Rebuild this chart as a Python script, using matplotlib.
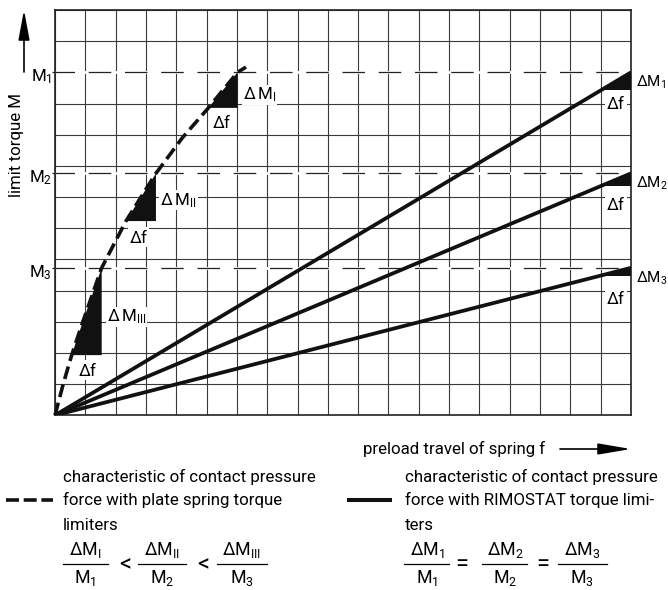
import matplotlib
matplotlib.use("Agg")
from matplotlib import pyplot as plt
from matplotlib.lines import Line2D

plt.rcParams['font.family'] = ['Roboto', 'DejaVu Sans']
plt.rcParams['font.size'] = 12.2
plt.rcParams['mathtext.fontset'] = 'custom'
plt.rcParams['mathtext.rm'] = 'Roboto'
plt.rcParams['mathtext.it'] = 'Roboto:italic'
plt.rcParams['mathtext.bf'] = 'Roboto:bold'

W, H = 668, 590

# chart paper: 19 x 13 squares
n_cols, n_rows = 19, 13

# limit torques M1, M2, M3 (in squares)
m_levels = [11.0, 7.76, 4.73]
m_names = [r'M$_1$', r'M$_2$', r'M$_3$']

# plate spring characteristic (dashed curve)
plate_f = [0, 0.27, 0.55, 0.9, 1.54, 2.34, 3.33, 4.2, 5.06, 6.02, 6.3]
plate_m = [0, 1.0, 1.93, 2.95, 4.73, 6.23, 7.76, 8.9, 9.86, 11.0, 11.17]
# triangles on the curve (start / end index in plate_f)
plate_tri = [(2, 4), (5, 6), (8, 9)]
plate_dm = [r'$\mathit{\Delta}\,\mathrm{M}_{\mathrm{III}}$', r'$\mathit{\Delta}\,\mathrm{M}_{\mathrm{II}}$',
            r'$\mathit{\Delta}\,\mathrm{M}_{\mathrm{I}}$']

# RIMOSTAT characteristic: straight lines from the origin to (f_end, M)
f_end = 19
f_tri = 18
rimo_dm = [r'$\mathit{\Delta}\mathrm{M}_1$', r'$\mathit{\Delta}\mathrm{M}_2$', r'$\mathit{\Delta}\mathrm{M}_3$']
df_label = r'$\mathit{\Delta}\mathrm{f}$'

fig = plt.figure(figsize=(W / 100, H / 100), dpi=100)
ax = fig.add_axes([55 / W, 1 - 415.3 / H, 576 / W, 405.3 / H])
ax.set_xlim(0, n_cols)
ax.set_ylim(0, n_rows)
ax.set_xticks(range(n_cols + 1))
ax.set_yticks(range(n_rows + 1))
ax.tick_params(length=0, labelbottom=False, labelleft=False)
ax.grid(True, color='#3a3a3a', lw=0.8)
for s in ax.spines.values():
    s.set_linewidth(1.2)
    s.set_color('#222222')

bb = dict(facecolor='white', edgecolor='none', pad=0.6)

# M reference lines
for m, name in zip(m_levels, m_names):
    ax.plot([-0.1, n_cols], [m, m], color='white', lw=2, clip_on=False, zorder=2)
    ax.plot([-0.1, n_cols], [m, m], color='#222222', lw=0.9, ls=(0, (18, 11)), clip_on=False, zorder=2)
    ax.text(-0.1, m - 0.15, name, ha='right', va='center')

# plate spring curve + triangles
ax.plot(plate_f, plate_m, color='#111111', lw=2.6, ls=(0, (3.6, 1.6)), zorder=4, clip_on=False)
for i, j in plate_tri:
    xs = plate_f[i:j + 1] + [plate_f[j]]
    ys = plate_m[i:j + 1] + [plate_m[i]]
    ax.fill(xs, ys, color='#111111', lw=0, zorder=3)

ax.text(6.2, 10.27, plate_dm[2], ha='left', va='center', bbox=bb, zorder=5)
ax.text(5.49, 9.41, df_label, ha='center', va='center', bbox=bb, zorder=5)
ax.text(3.47, 6.9, plate_dm[1], ha='left', va='center', bbox=bb, zorder=5)
ax.text(2.75, 5.72, df_label, ha='center', va='center', bbox=bb, zorder=5)
ax.text(1.7, 3.16, plate_dm[0], ha='left', va='center', bbox=bb, zorder=5)
ax.text(1.07, 1.45, df_label, ha='center', va='center', bbox=bb, zorder=5)

# RIMOSTAT lines + triangles
for m, lab in zip(m_levels, rimo_dm):
    ax.plot([0, f_end], [0, m], color='#111111', lw=2.7, solid_capstyle='butt', zorder=4)
    mt = m * f_tri / f_end
    ax.fill([f_tri, f_end, f_end], [mt, mt, m], color='#111111', lw=0, zorder=3)
    ax.text(f_end + 0.17, m - 0.32, lab, ha='left', va='center', fontsize=11, clip_on=False)
    ax.text(f_tri + 0.5, m - 0.97, df_label, ha='center', va='center', bbox=bb, zorder=5)

# axis captions
fig.text(17 / W, 1 - 145 / H, 'limit torque M', rotation=90, ha='center', va='center')
ax.annotate('', xy=(24 / W, 1 - 10 / H), xytext=(24 / W, 1 - 72 / H),
            xycoords='figure fraction', textcoords='figure fraction',
            arrowprops=dict(arrowstyle='-|>,head_length=1.5,head_width=0.28',
                            color='black', lw=1.2, shrinkA=0, shrinkB=0))
fig.text(363 / W, 1 - 449 / H, 'preload travel of spring f', ha='left', va='center')
ax.annotate('', xy=(631 / W, 1 - 449 / H), xytext=(560 / W, 1 - 449 / H),
            xycoords='figure fraction', textcoords='figure fraction',
            arrowprops=dict(arrowstyle='-|>,head_length=1.65,head_width=0.28',
                            color='black', lw=1.2, shrinkA=0, shrinkB=0))

# legend blocks
left_lines = ['characteristic of contact pressure', 'force with plate spring torque', 'limiters']
right_lines = ['characteristic of contact pressure', 'force with RIMOSTAT torque limi-', 'ters']
for k, y in enumerate([477, 500, 525]):
    fig.text(63 / W, 1 - y / H, left_lines[k], ha='left', va='center')
    fig.text(405 / W, 1 - y / H, right_lines[k], ha='left', va='center')

fig.add_artist(Line2D([6 / W, 53 / W], [1 - 500 / H] * 2, color='#111111', lw=2.6,
                      ls=(0, (3.6, 1.3)), transform=fig.transFigure))
fig.add_artist(Line2D([347 / W, 392 / W], [1 - 500 / H] * 2, color='#111111', lw=2.9,
                      solid_capstyle='butt', transform=fig.transFigure))

# ratio formulas
left_num = [r'$\Delta\mathrm{M}_{\mathrm{I}}$', r'$\Delta\mathrm{M}_{\mathrm{II}}$', r'$\Delta\mathrm{M}_{\mathrm{III}}$']
right_num = [r'$\Delta\mathrm{M}_1$', r'$\Delta\mathrm{M}_2$', r'$\Delta\mathrm{M}_3$']
den = [r'M$_1$', r'M$_2$', r'M$_3$']


def fraction(xc, x0, x1, num, dn):
    fig.text(xc / W, 1 - 550 / H, num, ha='center', va='center', fontsize=12.8)
    fig.text(xc / W, 1 - 578 / H, dn, ha='center', va='center', fontsize=12.8)
    fig.add_artist(Line2D([x0 / W, x1 / W], [1 - 564 / H] * 2, color='black', lw=0.9,
                          transform=fig.transFigure))


for xc, x0, x1, nm, dn in zip([85, 162, 242], [63, 138, 217], [108, 186, 267], left_num, den):
    fraction(xc, x0, x1, nm, dn)
for xc, x0, x1, nm, dn in zip([427, 505, 582], [404, 482, 558], [449, 527, 607], right_num, den):
    fraction(xc, x0, x1, nm, dn)
for x in [125, 203]:
    fig.text(x / W, 1 - 565 / H, '<', ha='center', va='center', fontsize=17)
for x in [462, 543]:
    fig.text(x / W, 1 - 565 / H, '=', ha='center', va='center', fontsize=17)

fig.savefig('out.png', dpi=100)
